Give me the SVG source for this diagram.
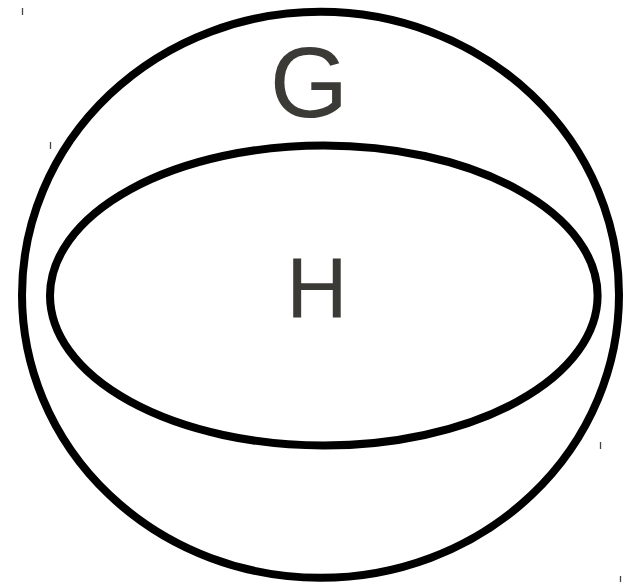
<svg xmlns="http://www.w3.org/2000/svg" width="632" height="582" viewBox="0 0 632 582">
<style>
.shape{fill:none;stroke:#000;stroke-width:8}
.lbl{font-family:"Liberation Sans",Arial,sans-serif;fill:#3b3a36;text-anchor:middle}
.tick{stroke:#444;stroke-width:1.3}
</style>
<rect width="632" height="582" fill="#fff"/>
<g id="G">
<ellipse class="shape" cx="320.5" cy="294.8" rx="298.5" ry="283"/>
<text class="lbl" x="309" y="117" font-size="101">G</text>
</g>
<g id="H">
<ellipse class="shape" cx="323.8" cy="295.5" rx="273.8" ry="150"/>
<text class="lbl" x="317" y="317" font-size="85">H</text>
</g>
<g id="connectors"></g>
<g id="ticks">
<line class="tick" x1="22.5" y1="8" x2="22.5" y2="15"/>
<line class="tick" x1="50.5" y1="142" x2="50.5" y2="149"/>
<line class="tick" x1="600.5" y1="442" x2="600.5" y2="449"/>
<line class="tick" x1="620.5" y1="576" x2="620.5" y2="582"/>
</g>
</svg>
